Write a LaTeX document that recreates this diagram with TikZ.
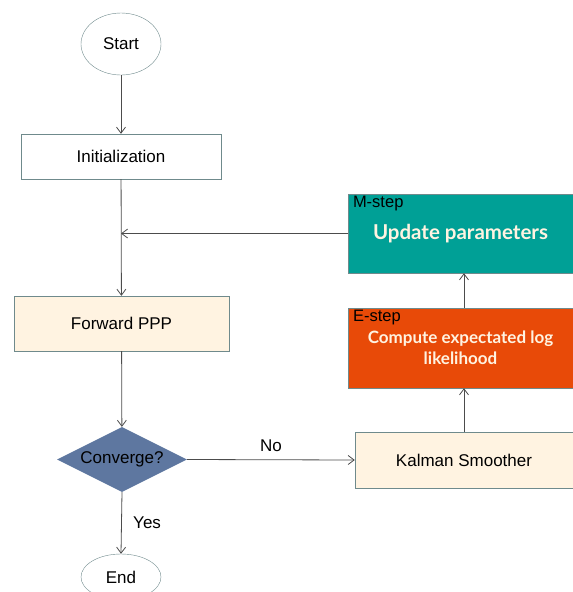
\documentclass[tikz,border=0pt]{standalone}
\usepackage{fontspec}
\setmainfont{Liberation Sans}
\newfontfamily\heavyfont{Lato}
\usepackage{xcolor}
\usetikzlibrary{shapes.geometric,arrows.meta}
\definecolor{edgegray}{HTML}{6F8A8C}
\definecolor{cream}{HTML}{FFF3E1}
\definecolor{tealfill}{HTML}{00A096}
\definecolor{orangefill}{HTML}{E84A08}
\definecolor{slate}{HTML}{5E77A0}

\begin{document}
\begin{tikzpicture}[x=1pt,y=-1pt,
	every node/.style={font=\fontsize{17}{20}\selectfont},
	box/.style={draw=edgegray, rectangle, inner sep=0pt},
	term/.style={draw=edgegray, ellipse, minimum width=80pt, inner sep=0pt},
	tag/.style={anchor=north west, inner xsep=5pt, inner ysep=2pt, font=\fontsize{16.5}{18}\selectfont},
	line/.style={draw=black!70, -{Straight Barb[length=6pt,width=9pt]}, line width=0.8pt}]
	\useasboundingbox (0,0) rectangle (573,592);
	% left column
	\node[term, minimum height=62pt] (start) at (121,44) {Start};
	\node[box, minimum width=200pt, minimum height=45pt] (init) at (121,156.5) {Initialization};
	\node[box, fill=cream, minimum width=215pt, minimum height=55pt] (fwd) at (121.5,323.5) {Forward PPP};
	\node[diamond, fill=slate, aspect=2, inner sep=0pt, minimum width=130pt, minimum height=65pt] (conv) at (122,459.5) {Converge?};
	\node[term, minimum height=46pt] (end) at (121,577) {End};
	% right column
	\node[box, fill=cream, minimum width=218pt, minimum height=56pt] (kal) at (464,460) {Kalman Smoother};
	\node[box, fill=orangefill, minimum width=225pt, minimum height=80pt, text=cream, align=center,
		font=\heavyfont\bfseries\fontsize{17}{21}\selectfont] (estep) at (460.5,348) {Compute expectated log\\likelihood};
	\node[tag] (elabel) at (estep.north west) {E-step};
	\node[box, fill=tealfill, minimum width=225pt, minimum height=79pt, text=cream,
		font=\heavyfont\bfseries\fontsize{20.5}{24}\selectfont] (mstep) at (460.5,233.5) {Update parameters};
	\node[tag] (mlabel) at (mstep.north west) {M-step};
	\coordinate (join) at (init.south |- mstep.west);
	% connectors
	\draw[line] (start) -- (init);
	\draw[line] (init) -- (fwd);
	\draw[line] (mstep.west) -- (join);
	\draw[line] (fwd) -- (conv);
	\draw[line] (conv.east) -- node[above=4pt] (no) {No} (kal.west);
	\draw[line] (conv.south) -- node[right=8pt] (yes) {Yes} (end.north);
	\draw[line] (kal.north) -- (kal.north |- estep.south);
	\draw[line] (kal.north |- estep.north) -- (kal.north |- mstep.south);
\end{tikzpicture}
\end{document}
